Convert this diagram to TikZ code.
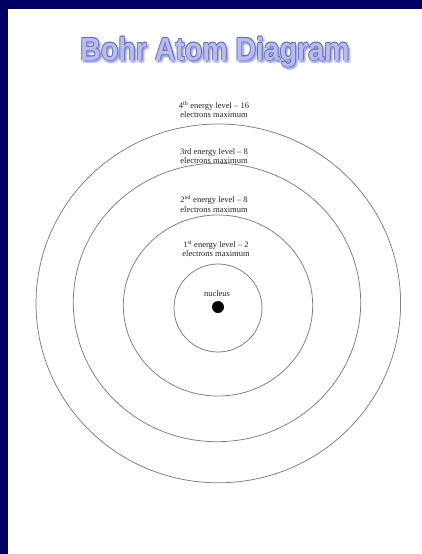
\documentclass[tikz,border=0pt]{standalone}
\usepackage{fontspec}
\setmainfont{Liberation Serif}
\newfontfamily\titlefont{Liberation Sans}
\definecolor{navy}{RGB}{0,0,100}
\definecolor{orbit}{RGB}{125,125,125}
\definecolor{tfill}{RGB}{184,188,240}
\definecolor{tline}{RGB}{105,112,160}
\definecolor{tglow}{RGB}{120,130,235}
\tikzset{
  orbitline/.style={draw=orbit, line width=0.75pt},
  lvl/.style={font=\fontsize{8.5}{9.3}\selectfont, align=center, text=black!85, inner sep=0pt},
}
\newcommand{\ttext}{\scalebox{0.89}[1]{\titlefont\bfseries\fontsize{32}{32}\selectfont Bohr Atom Diagram}}
\begin{document}
\begin{tikzpicture}[x=1pt,y=-1pt]
\useasboundingbox (0,0) rectangle (422,554);
\fill[navy] (0,0) rectangle (422,554);
\fill[white] (8,9) rectangle (422,554);
% title glow
\foreach \dx/\dy in {1/2,2/3,3/3,0/3,2/1,-1/2,3/1}{
  \node[text=tglow, opacity=0.22, inner sep=0pt] at (215+\dx,52+\dy) {\ttext};
}
% title outline
\foreach \dx/\dy in {0.7/0,-0.7/0,0/0.7,0/-0.7,0.5/0.5,-0.5/0.5,0.5/-0.5,-0.5/-0.5}{
  \node[text=tline, inner sep=0pt] at (215+\dx,52+\dy) {\ttext};
}
\node[text=tfill, inner sep=0pt] (title) at (215,52) {\ttext};
% orbits
\draw[orbitline] (218.3,303.4) ellipse [x radius=182.3pt, y radius=179.4pt];
\draw[orbitline] (217,302.5) ellipse [x radius=143.7pt, y radius=139.2pt];
\draw[orbitline] (218,305.5) ellipse [x radius=94.7pt, y radius=90.5pt];
\draw[orbitline] (218,308) ellipse [x radius=44pt, y radius=44pt];
% nucleus
\fill[black] (218,307) circle [radius=6pt];
\node[lvl] (nuc) at (217,294) {nucleus};
% labels
\node[lvl] (l4) at (214,109.5) {4\textsuperscript{th} energy level -- 16\\electrons maximum};
\node[lvl] (l3) at (214,156) {3rd energy level -- 8\\electrons maximum};
\node[lvl] (l2) at (214,204) {2\textsuperscript{nd} energy level -- 8\\electrons maximum};
\node[lvl] (l1) at (216,249) {1\textsuperscript{st} energy level -- 2\\electrons maximum};
\end{tikzpicture}
\end{document}
